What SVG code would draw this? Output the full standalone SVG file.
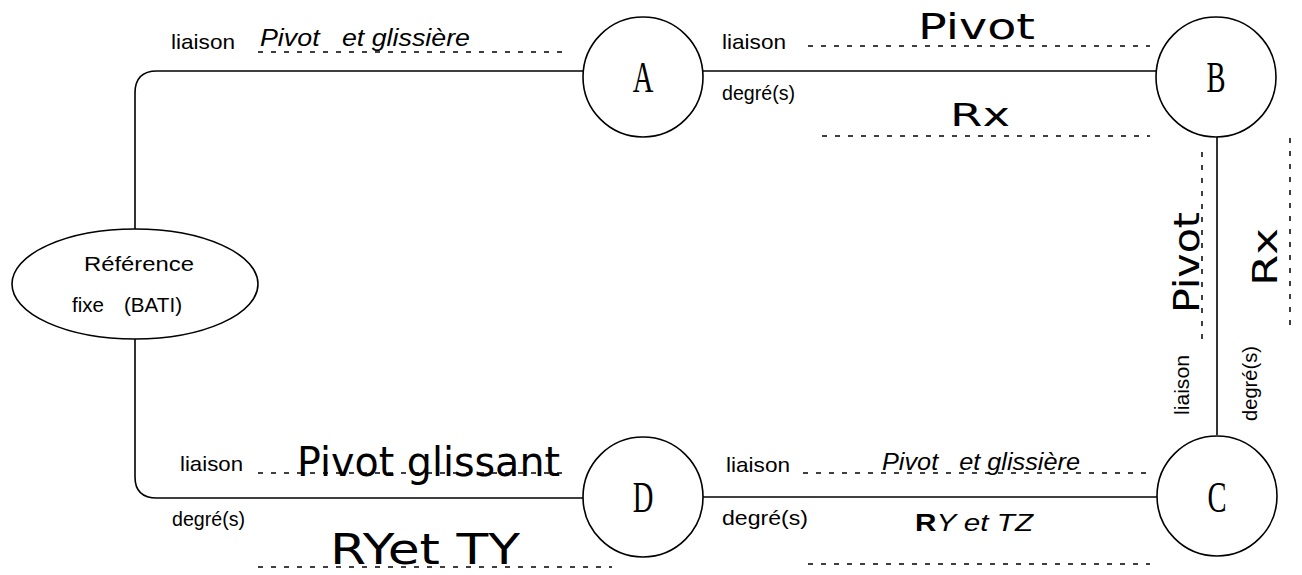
<svg xmlns="http://www.w3.org/2000/svg" width="1302" height="575" viewBox="0 0 1302 575">
<style>
.n{fill:#fff;stroke:#000;stroke-width:1.6}
.c{fill:none;stroke:#000;stroke-width:1.6}
.d{fill:none;stroke:#000;stroke-width:1.5;stroke-dasharray:5 8}
.s{font-family:"Liberation Sans",Arial,sans-serif;font-size:21px;fill:#000}
.i{font-family:"Liberation Sans",Arial,sans-serif;font-size:23px;font-style:italic;fill:#000;white-space:pre}
.h{font-family:"DejaVu Sans","Liberation Sans",sans-serif;fill:#000}
.l{font-family:"Liberation Serif","Times New Roman",serif;font-size:44px;fill:#000}
</style>
<rect width="1302" height="575" fill="#fff"/>
<g id="connectors">
<path class="c" d="M583 71 H157 Q135 71 135 93 V229"/>
<path class="c" d="M135 338 V477 Q135 498 157 498 H583"/>
<path class="c" d="M703 71 H1156"/>
<path class="c" d="M703 497 H1157"/>
<path class="c" d="M1217 137 V435"/>
</g>
<g id="labels">
<text class="s" x="171" y="49" textLength="64" lengthAdjust="spacingAndGlyphs">liaison</text>
<text class="i" x="260" y="46" textLength="210" lengthAdjust="spacingAndGlyphs" xml:space="preserve">Pivot   et glissière</text>
<line class="d" x1="258" y1="52" x2="565" y2="52"/>

<text class="s" x="722" y="49" textLength="64" lengthAdjust="spacingAndGlyphs">liaison</text>
<text class="h" x="918" y="39" font-size="36" textLength="117" lengthAdjust="spacingAndGlyphs">Pivot</text>
<line class="d" x1="808" y1="46" x2="1150" y2="46"/>
<text class="s" x="722" y="100" textLength="73" lengthAdjust="spacingAndGlyphs">degré(s)</text>
<text class="h" x="950" y="126" font-size="32" textLength="60" lengthAdjust="spacingAndGlyphs">Rx</text>
<line class="d" x1="822" y1="136" x2="1150" y2="136"/>

<line class="d" x1="1202" y1="152" x2="1202" y2="342"/>
<text class="h" font-size="36" transform="translate(1199 313) rotate(-90)" textLength="101" lengthAdjust="spacingAndGlyphs">Pivot</text>
<line class="d" x1="1290" y1="138" x2="1290" y2="328"/>
<text class="h" font-size="34" transform="translate(1277 286) rotate(-90)" textLength="58" lengthAdjust="spacingAndGlyphs">Rx</text>
<text class="s" transform="translate(1189 415) rotate(-90)" textLength="60" lengthAdjust="spacingAndGlyphs">liaison</text>
<text class="s" transform="translate(1257 421) rotate(-90)" textLength="75" lengthAdjust="spacingAndGlyphs">degré(s)</text>

<text class="s" x="180" y="471" textLength="63" lengthAdjust="spacingAndGlyphs">liaison</text>
<text class="h" x="297" y="476" font-size="40" textLength="263" lengthAdjust="spacingAndGlyphs">Pivot glissant</text>
<line class="d" x1="258" y1="473" x2="570" y2="473"/>
<text class="s" x="172" y="526" textLength="73" lengthAdjust="spacingAndGlyphs">degré(s)</text>
<text class="h" x="330" y="564" font-size="42" textLength="190" lengthAdjust="spacingAndGlyphs">RYet TY</text>
<line class="d" x1="258" y1="567" x2="612" y2="567"/>

<text class="s" x="726" y="472" textLength="64" lengthAdjust="spacingAndGlyphs">liaison</text>
<text class="i" x="882" y="470" textLength="198" lengthAdjust="spacingAndGlyphs" xml:space="preserve">Pivot   et glissière</text>
<line class="d" x1="803" y1="473" x2="1150" y2="473"/>
<text class="s" x="722" y="525" textLength="86" lengthAdjust="spacingAndGlyphs">degré(s)</text>
<text class="i" x="915" y="531" font-size="25" textLength="118" lengthAdjust="spacingAndGlyphs"><tspan font-weight="bold" font-style="normal">R</tspan>Y et TZ</text>
<line class="d" x1="808" y1="564" x2="1150" y2="564"/>
</g>
<g id="node-ref">
<ellipse class="n" cx="135" cy="284" rx="123" ry="55"/>
<text class="s" x="139" y="271" text-anchor="middle" textLength="110" lengthAdjust="spacingAndGlyphs">Référence</text>
<text class="s" x="72" y="312" textLength="32" lengthAdjust="spacingAndGlyphs">fixe</text>
<text class="s" x="124" y="312" textLength="58" lengthAdjust="spacingAndGlyphs">(BATI)</text>
</g>
<g id="node-A">
<circle class="n" cx="643" cy="77" r="60"/>
<text class="l" transform="translate(643 92) scale(0.65 1)" text-anchor="middle">A</text>
</g>
<g id="node-B">
<circle class="n" cx="1216" cy="77" r="60"/>
<text class="l" transform="translate(1216 92) scale(0.65 1)" text-anchor="middle">B</text>
</g>
<g id="node-C">
<circle class="n" cx="1217" cy="496" r="60"/>
<text class="l" transform="translate(1217 512) scale(0.65 1)" text-anchor="middle">C</text>
</g>
<g id="node-D">
<circle class="n" cx="643" cy="497" r="60"/>
<text class="l" transform="translate(643 512) scale(0.65 1)" text-anchor="middle">D</text>
</g>
</svg>
